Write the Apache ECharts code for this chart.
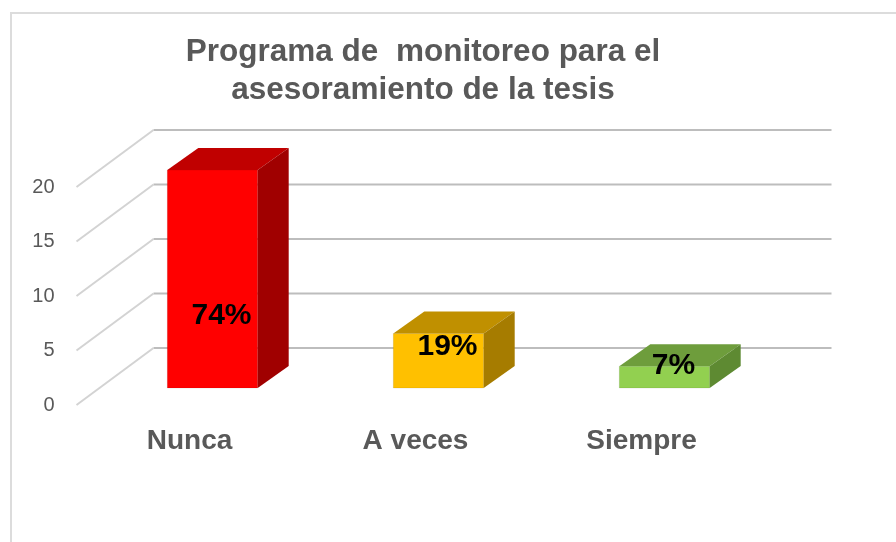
<!DOCTYPE html>
<html>
<head>
<meta charset="utf-8">
<script src="https://cdn.jsdelivr.net/npm/echarts@6/dist/echarts.min.js"></script>
<style>
  html, body { margin: 0; padding: 0; background: #fff; }
  #chart { width: 896px; height: 542px; }
</style>
</head>
<body>
<div id="chart"></div>
<script>
// Datos del gráfico
const CATEGORIES = ['Nunca', 'A veces', 'Siempre'];
const COUNTS = [20, 5, 2];
const PERCENT_LABELS = ['74%', '19%', '7%'];
const Y_TICKS = [0, 5, 10, 15, 20];

// Colores de las caras de cada caja (frente / tapa / lateral)
const FRONT_COLORS = ['#FF0000', '#FFC000', '#92D050'];
const TOP_COLORS = ['#C00000', '#C09000', '#6E9D3C'];
const SIDE_COLORS = ['#A00000', '#A67C00', '#5E8A32'];

const TEXT_COLOR = '#595959';
// desplazamientos de la perspectiva "3D"
const BAR_DX = 31, BAR_DY = -22;     // profundidad de la caja
const WALL_DX = 54, WALL_DY = -40;   // pared del fondo respecto al plano de las barras
const FRONT_DX = -23, FRONT_DY = 17; // borde delantero del piso

const chart = echarts.init(document.getElementById('chart'), null, { renderer: 'canvas' });

function renderWall(params, api) {
  const cs = params.coordSys;
  const y = api.coord([0, api.value(1)])[1];
  const line = (pts, color) => ({
    type: 'polyline',
    shape: { points: pts },
    style: { stroke: color, lineWidth: 2, fill: null },
  });
  return {
    type: 'group',
    children: [
      line([[cs.x + WALL_DX, y + WALL_DY], [cs.x + cs.width + WALL_DX, y + WALL_DY]], '#BDBDBD'),
      line([[cs.x + FRONT_DX, y + FRONT_DY], [cs.x + WALL_DX, y + WALL_DY]], '#D3D3D3'),
    ],
  };
}

function renderBox(params, api) {
  const i = api.value(0);
  const v = api.value(1);
  const base = api.coord([i, 0]);
  const top = api.coord([i, v]);
  const w = api.size([1, 0])[0] * 0.4;
  const x0 = base[0] - w / 2, x1 = base[0] + w / 2;
  const y0 = base[1], y1 = top[1];
  // altura del rótulo: a un tercio en barras altas, cerca de la tapa en las bajas
  const labelVal = v > 10 ? v / 3 : 0.6 * v + 0.8;
  const ly = api.coord([i, labelVal])[1];
  return {
    type: 'group',
    children: [
      {
        type: 'rect',
        shape: { x: x0, y: y1, width: w, height: y0 - y1 },
        style: { fill: FRONT_COLORS[i], stroke: 'rgba(0,0,0,0.08)', lineWidth: 1 },
      },
      {
        type: 'polygon',
        shape: { points: [[x0, y1], [x0 + BAR_DX, y1 + BAR_DY], [x1 + BAR_DX, y1 + BAR_DY], [x1, y1]] },
        style: { fill: TOP_COLORS[i] },
      },
      {
        type: 'polygon',
        shape: { points: [[x1, y1], [x1 + BAR_DX, y1 + BAR_DY], [x1 + BAR_DX, y0 + BAR_DY], [x1, y0]] },
        style: { fill: SIDE_COLORS[i] },
      },
      {
        type: 'text',
        x: base[0] + 9,
        y: ly,
        style: {
          text: PERCENT_LABELS[i],
          fill: '#000',
          font: 'bold 30px "Liberation Sans", Arial, sans-serif',
          align: 'center',
          verticalAlign: 'middle',
        },
      },
    ],
  };
}

chart.setOption({
  animation: false,
  title: {
    text: 'Programa de  monitoreo para el\nasesoramiento de la tesis',
    left: 418,
    top: 28,
    textAlign: 'center',
    textStyle: {
      fontFamily: '"Liberation Sans", Arial, sans-serif',
      fontSize: 31.5,
      fontWeight: 'bold',
      color: TEXT_COLOR,
      lineHeight: 38,
    },
  },
  graphic: [{
    type: 'rect',
    shape: { x: 11, y: 13, width: 900, height: 560 },
    style: { fill: null, stroke: '#DCDCDC', lineWidth: 2 },
    silent: true,
  }],
  grid: [
    // plano de las barras
    { left: 99.5, right: 118.5, top: 170, bottom: 154 },
    // borde delantero (rótulos de los ejes)
    { left: 76.5, right: 141.5, top: 187, bottom: 137 },
  ],
  xAxis: [
    { gridIndex: 0, type: 'category', data: CATEGORIES, show: false },
    {
      gridIndex: 1, type: 'category', data: CATEGORIES,
      axisLine: { show: false }, axisTick: { show: false },
      axisLabel: {
        margin: 22,
        color: TEXT_COLOR,
        fontFamily: '"Liberation Sans", Arial, sans-serif',
        fontSize: 28,
        fontWeight: 'bold',
      },
    },
  ],
  yAxis: [
    { gridIndex: 0, type: 'value', min: 0, max: 20, interval: 5, show: false },
    {
      gridIndex: 1, type: 'value', min: 0, max: 20, interval: 5,
      axisLine: { show: false }, axisTick: { show: false }, splitLine: { show: false },
      axisLabel: {
        margin: 22,
        color: TEXT_COLOR,
        fontFamily: '"Liberation Sans", Arial, sans-serif',
        fontSize: 20,
      },
    },
  ],
  series: [
    {
      type: 'custom',
      xAxisIndex: 0, yAxisIndex: 0,
      renderItem: renderWall,
      data: Y_TICKS.map((t) => [0, t]),
      encode: { x: 0, y: 1 },
      silent: true,
      z: 1,
    },
    {
      type: 'custom',
      xAxisIndex: 0, yAxisIndex: 0,
      renderItem: renderBox,
      data: COUNTS.map((c, i) => [i, c]),
      encode: { x: 0, y: 1 },
      z: 2,
    },
  ],
});
</script>
</body>
</html>
